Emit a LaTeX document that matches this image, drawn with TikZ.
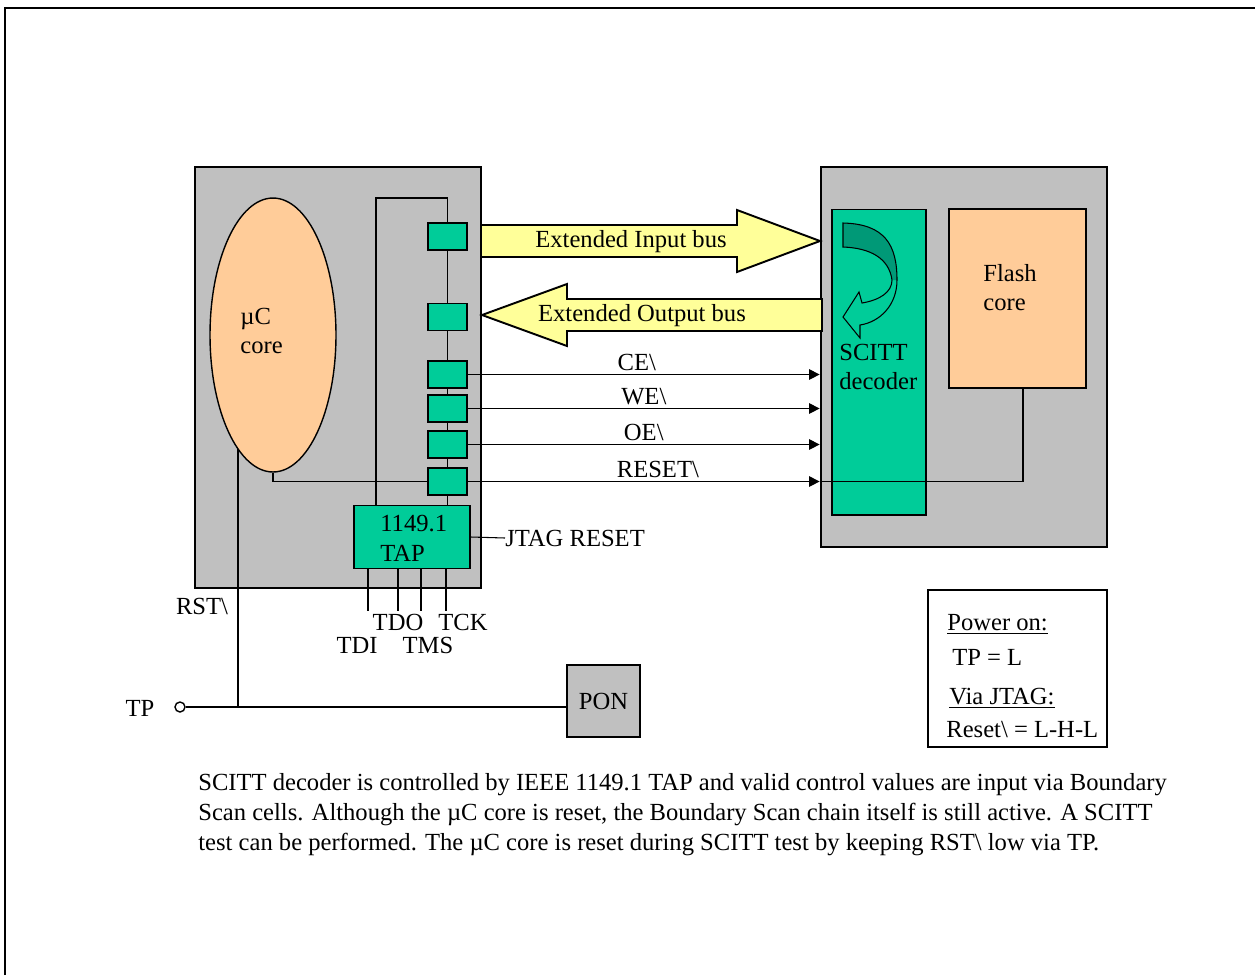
\documentclass[tikz,border=0pt]{standalone}
\usepackage{fontspec}
\setmainfont{Liberation Serif}
\usetikzlibrary{positioning, arrows.meta, calc, shapes.geometric}

\definecolor{chipgray}{HTML}{C0C0C0}
\definecolor{tapgreen}{HTML}{00CC99}
\definecolor{peach}{HTML}{FFCC99}
\definecolor{busyellow}{HTML}{FFFF99}
\definecolor{darkgreen}{HTML}{009977}
\newcommand{\nbar}{\textbackslash}

\begin{document}
\begin{tikzpicture}[
  x=0.02cm, y=-0.02cm,
  >={Triangle[length=6pt, width=6pt]},
  txt/.style={font=\fontsize{14}{16.5}\selectfont, inner sep=0pt},
  chip/.style={draw, line width=1.6pt, fill=chipgray, inner sep=0pt},
  cell/.style={draw, line width=1.1pt, fill=tapgreen, inner sep=0pt,
    minimum width=0.78cm, minimum height=0.54cm},
  wire/.style={line width=0.6pt},
  pin/.style={line width=#1},
  bus/.style={draw, line width=1.1pt, fill=busyellow, line join=miter},
]
\useasboundingbox (0,0) rectangle (1255,975);

% outer frame (only top and left edges show)
\draw[line width=1.4pt] (5,975) -- (5,8) -- (1255,8);

% === microcontroller (left) ===
\node[chip, minimum width=5.72cm, minimum height=8.42cm] (mcu) at (338,377.5) {};
\node[draw, ellipse, fill=peach, line width=0.8pt, inner sep=0pt,
  minimum width=2.52cm, minimum height=5.48cm] (core) at (273,335) {};
\node[txt, align=left, anchor=west] (corelbl) at (240,331) {µC\\core};

% boundary scan cells
\foreach \n/\y in {1/236.5, 2/317, 3/374.5, 4/408.5, 5/444.5, 6/481.5}
  \node[cell] (c\n) at (447.5,\y) {};

\node[cell, minimum width=2.32cm, minimum height=1.26cm] (tap) at (412,537) {};
\node[txt, align=left, anchor=west, font=\fontsize{14}{17}\selectfont]
  (taplbl) at (380,538) {1149.1\\TAP};

% scan chain
\coordinate (chaintop) at (376,198);
\draw[line width=1pt] (tap.north -| chaintop) -- (chaintop) -| (c1.north);
\draw[wire] (c1) -- (c2);
\draw[wire] (c2) -- (c3);
\draw[wire] (c3) -- (c4);
\draw[wire] (c4) -- (c5);
\draw[wire] (c5) -- (c6);
\draw[wire] (c6) -- (tap.north -| c6);

% core to reset cell
\draw[wire] (core.south) |- (c6.west);

% JTAG pins
\foreach \x/\w in {368/1.2pt, 398/0.6pt, 421/1.2pt, 446/0.6pt}
  \draw[pin=\w] (tap.south -| \x,0) -- ++(0,42);
\node[txt] (tdo) at (398,622) {TDO};
\node[txt] (tck) at (463,622) {TCK};
\node[txt] (tdi) at (357,645) {TDI};
\node[txt] (tms) at (428,645) {TMS};

\node[txt, anchor=west] (jtag) at (505,538) {JTAG RESET};
\draw[wire] (tap.east) -- (jtag.west);

% === flash device (right) ===
\node[chip, minimum width=5.72cm, minimum height=7.6cm] (mem) at (964,357) {};
\node[draw, line width=0.6pt, fill=tapgreen, inner sep=0pt,
  minimum width=1.88cm, minimum height=6.12cm] (dec) at (879,362) {};
\node[draw, line width=1.1pt, fill=peach, inner sep=0pt,
  minimum width=2.74cm, minimum height=3.58cm] (flash) at (1017.5,298.5) {};
\node[txt, align=left, anchor=west] (flashlbl) at (983,288) {Flash\\core};
\node[txt, align=left, anchor=west] (declbl) at (839,367) {SCITT\\decoder};

% curved arrow inside decoder
\begin{scope}
  \clip (832,215) rectangle (926,281);
  \fill[darkgreen] (843,223) .. controls (885,224) and (897,245) .. (897,280)
    -- (892,280) .. controls (889,258) and (870,248) .. (843,247) -- cycle;
\end{scope}
\draw[line width=0.6pt] (843,223) .. controls (885,224) and (897,245) .. (897,280)
  .. controls (897,305) and (880,322) .. (860,325) -- (860,338) -- (843,317)
  -- (859,292) -- (862,303) .. controls (880,300) and (892,292) .. (892,280)
  .. controls (889,258) and (870,248) .. (843,247) -- cycle;

% === buses ===
\draw[bus] (481,225) -- (737,225) -- (737,210) -- (820,241) -- (737,272)
  -- (737,257) -- (481,257) -- cycle;
\node[txt] (inbus) at (631,242) {Extended Input bus};
\draw[bus] (822,299) -- (567,299) -- (567,284) -- (482,315) -- (567,346)
  -- (567,331) -- (822,331) -- cycle;
\node[txt] (outbus) at (642,316) {Extended Output bus};

% control signals
\draw[wire, ->] (c3.east) -- (c3.east -| mem.west) node[txt, pos=0.48, above=2pt] {CE\nbar};
\draw[wire, ->] (c4.east) -- (c4.east -| mem.west) node[txt, pos=0.50, above=2pt] {WE\nbar};
\draw[wire, ->] (c5.east) -- (c5.east -| mem.west) node[txt, pos=0.50, above=2pt] {OE\nbar};
\draw[wire, ->] (c6.east) -- (c6.east -| mem.west) node[txt, pos=0.54, above=2pt] {RESET\nbar};
\draw[wire] (c6.east -| mem.west) -| (flash.south -| 1023,0);

% === reset path ===
\coordinate (rsttop) at (238,449);
\node[txt] (tplbl) at (140,708) {TP};
\node[circle, draw, line width=0.8pt, inner sep=0pt, minimum size=0.2cm] (tp) at (180,707) {};
\node[draw, line width=1.1pt, fill=chipgray, inner sep=0pt,
  font=\fontsize{14}{17}\selectfont,
  minimum width=1.46cm, minimum height=1.44cm] (pon) at (603.5,701) {PON};
\draw[line width=1.1pt] (tp) -- (tp -| pon.west);
\draw[line width=1.1pt] (rsttop) -- (rsttop |- tp);
\node[txt] (rstlbl) at (202,606) {RST\nbar};

% legend
\node[draw, line width=1.1pt, inner sep=0pt, minimum width=3.58cm,
  minimum height=3.14cm] (legend) at (1017.5,668.5) {};
\node[txt, anchor=west] (pwr) at (947,624) {\underline{Power on:}};
\node[txt, anchor=west] (tpl) at (952,657) {TP = L};
\node[txt, anchor=west] (via) at (949,698) {\underline{Via JTAG:}};
\node[txt, anchor=west] (rstv) at (946,729) {Reset\nbar{} = L-H-L};

% caption
\node[txt, anchor=north west, align=left, font=\fontsize{14}{17}\selectfont]
  (caption) at (198,773)
  {SCITT decoder is controlled by IEEE 1149.1 TAP and valid control values are input via Boundary\\
   Scan cells. Although the µC core is reset, the Boundary Scan chain itself is still active. A SCITT\\
   test can be performed. The µC core is reset during SCITT test by keeping RST\nbar{} low via TP.};
\end{tikzpicture}
\end{document}
